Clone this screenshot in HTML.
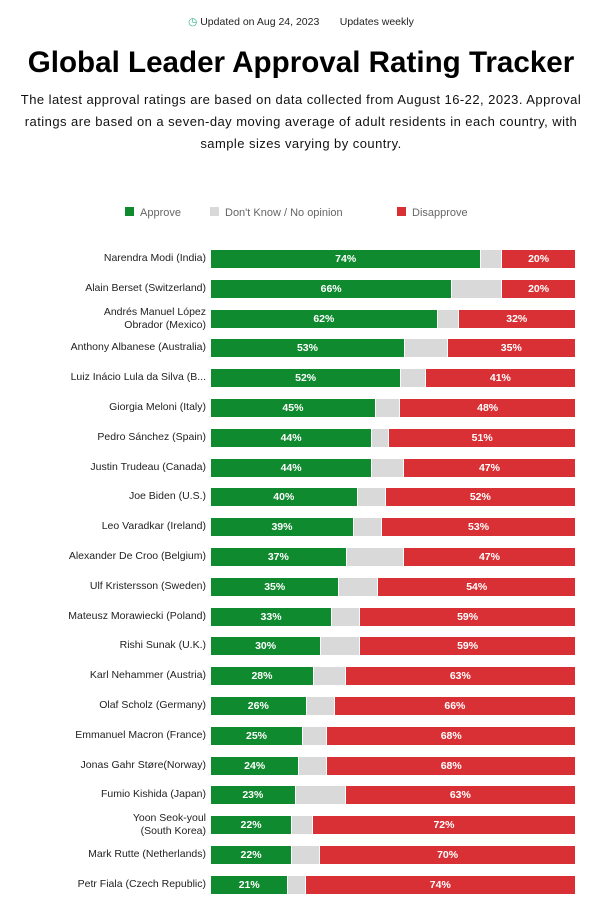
<!DOCTYPE html>
<html><head><meta charset="utf-8"><style>
body{margin:0;width:602px;height:906px;background:#fff;font-family:"Liberation Sans",sans-serif;position:relative;overflow:hidden;color:#111}
.abs{position:absolute}
</style></head><body>
<div class="abs" style="left:0;width:602px;top:16px;text-align:center;font-size:10.5px;color:#222">
<span style="color:#2bb07f">&#9719;</span> Updated on Aug 24, 2023 &nbsp;&nbsp;&nbsp;&nbsp;&nbsp; Updates weekly</div>
<div class="abs" style="left:0;width:602px;top:46px;text-align:center;font-size:29.6px;font-weight:bold;color:#000">Global Leader Approval Rating Tracker</div>
<div class="abs" style="left:0;width:602px;top:89px;text-align:center;font-size:13px;letter-spacing:0.45px;line-height:22px;color:#111;white-space:nowrap">The latest approval ratings are based on data collected from August 16-22, 2023. Approval<br>ratings are based on a seven-day moving average of adult residents in each country, with<br>sample sizes varying by country.</div>
<div class="abs" style="left:0;top:207px;width:602px;font-size:11px;color:#666">
<span class="abs" style="left:125px;white-space:nowrap"><span style="display:inline-block;width:9px;height:9px;background:#0f8a2e;margin-right:6px"></span>Approve</span>
<span class="abs" style="left:210px;white-space:nowrap"><span style="display:inline-block;width:9px;height:9px;background:#d9d9d9;margin-right:6px"></span>Don't Know / No opinion</span>
<span class="abs" style="left:397px;white-space:nowrap"><span style="display:inline-block;width:9px;height:9px;background:#d93035;margin-right:6px"></span>Disapprove</span>
</div>
<div id="chart"></div>
<script>
const leaders=["Narendra Modi (India)","Alain Berset (Switzerland)","Andrés Manuel López|Obrador (Mexico)","Anthony Albanese (Australia)","Luiz Inácio Lula da Silva (B...","Giorgia Meloni (Italy)","Pedro Sánchez (Spain)","Justin Trudeau (Canada)","Joe Biden (U.S.)","Leo Varadkar (Ireland)","Alexander De Croo (Belgium)","Ulf Kristersson (Sweden)","Mateusz Morawiecki (Poland)","Rishi Sunak (U.K.)","Karl Nehammer (Austria)","Olaf Scholz (Germany)","Emmanuel Macron (France)","Jonas Gahr Støre(Norway)","Fumio Kishida (Japan)","Yoon Seok-youl|(South Korea)","Mark Rutte (Netherlands)","Petr Fiala (Czech Republic)"];
const approve=[74,66,62,53,52,45,44,44,40,39,37,35,33,30,28,26,25,24,23,22,22,21];
const disapprove=[20,20,32,35,41,48,51,47,52,53,47,54,59,59,63,66,68,68,63,72,70,74];
const X0=211,W=364,Y0=250,STEP=29.8,H=18;
const sx=v=>v/100*W;
const chart=document.getElementById('chart');
leaders.forEach((name,i)=>{
  const y=Y0+i*STEP;
  const lab=document.createElement('div');
  
  
  const two=name.includes('|');
  lab.innerHTML=name.replace('|','<br>');
  lab.style.cssText=`position:absolute;right:${602-206}px;top:${y+H/2-(two?13:7)}px;text-align:right;font-size:10.5px;line-height:13px;color:#222;white-space:nowrap`;
  chart.appendChild(lab);
  const a=approve[i],d=disapprove[i];
  const g=document.createElement('div');
  
  
  g.style.cssText=`position:absolute;left:${X0}px;top:${y}px;width:${sx(a)}px;height:${H}px;background:#0f8a2e;color:#fff;font-weight:bold;font-size:10.5px;line-height:${H}px;text-align:center`;
  g.textContent=a+'%';chart.appendChild(g);
  const n=document.createElement('div');
  
  
  n.style.cssText=`position:absolute;left:${X0+sx(a)+1}px;top:${y}px;width:${Math.max(0,sx(100-a-d)-2)}px;height:${H}px;background:#d9d9d9`;
  chart.appendChild(n);
  const r=document.createElement('div');
  
  
  r.style.cssText=`position:absolute;left:${X0+W-sx(d)}px;top:${y}px;width:${sx(d)}px;height:${H}px;background:#d93035;color:#fff;font-weight:bold;font-size:10.5px;line-height:${H}px;text-align:center`;
  r.textContent=d+'%';chart.appendChild(r);
});
</script>
</body></html>
